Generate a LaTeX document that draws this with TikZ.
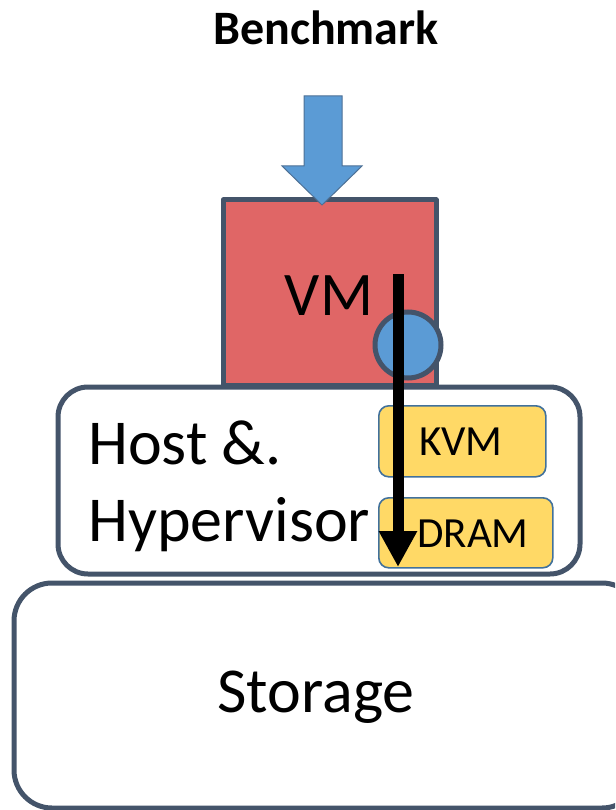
\documentclass[tikz,border=0pt]{standalone}
\usepackage{fontspec}
\setmainfont{Carlito}
\usetikzlibrary{arrows.meta}
\definecolor{slate}{HTML}{44546A}
\definecolor{vmred}{HTML}{E06666}
\definecolor{skyblue}{HTML}{5B9BD5}
\definecolor{gold}{HTML}{FFD966}
\definecolor{goldedge}{HTML}{41719C}
\tikzset{
  layer/.style={draw=slate, line width=5pt, rounded corners=30pt, fill=white},
  chip/.style={draw=goldedge, line width=1.6pt, fill=gold, rounded corners=10pt},
  big/.style={font=\fontsize{64}{66}\selectfont},
  small/.style={font=\fontsize{43}{45}\selectfont},
}
\begin{document}
\begin{tikzpicture}[x=1pt,y=-1pt]
\useasboundingbox (0,0) rectangle (615,810);
% storage layer (runs off the right edge)
\begin{scope}
\clip (0,0) rectangle (615,810);
\draw[layer, rounded corners=38pt] (14,583) rectangle (640,808);
\end{scope}
\node[big] (storage) at (316,697) {Storage};
% host layer
\draw[layer] (58,387) rectangle (580,574);
\node[big, anchor=base west, inner sep=0pt] (host) at (88,464) {Host \&.};
\node[big, anchor=base west, inner sep=0pt] (hyp) at (88,541) {Hypervisor};
% chips inside the host
\node[chip, minimum width=167pt, minimum height=71pt, anchor=north west] (kvm) at (378,405) {};
\node[small] at (461,442) {KVM};
\node[chip, minimum width=174pt, minimum height=70pt, anchor=north west] (dram) at (378,497) {};
\node[small] at (473,534) {DRAM};
% VM box
\draw[draw=slate, line width=5pt, fill=vmred, line join=round] (223,200) rectangle (436,385);
\node[font=\fontsize{62}{64}\selectfont] (vm) at (329,296) {VM};
\node[circle, draw=slate, line width=5pt, fill=skyblue, minimum size=66pt, inner sep=0pt] (io) at (408,345) {};
% benchmark input arrow
\draw[draw=slate!60!skyblue, line width=1pt, fill=skyblue, line join=miter]
  (304,96) -- (342,96) -- (342,166) -- (362,166) -- (322,205) -- (282,166) -- (304,166) -- cycle;
\node[font=\fontsize{48}{50}\selectfont\bfseries] (bench) at (326,28) {Benchmark};
% I/O path down through the stack
\coordinate (pstart) at (398,274);
\coordinate (pend) at (398,567);
\draw[line width=11pt, -{Triangle[width=36pt,length=36pt]}] (pstart) -- (pend);
\end{tikzpicture}
\end{document}
